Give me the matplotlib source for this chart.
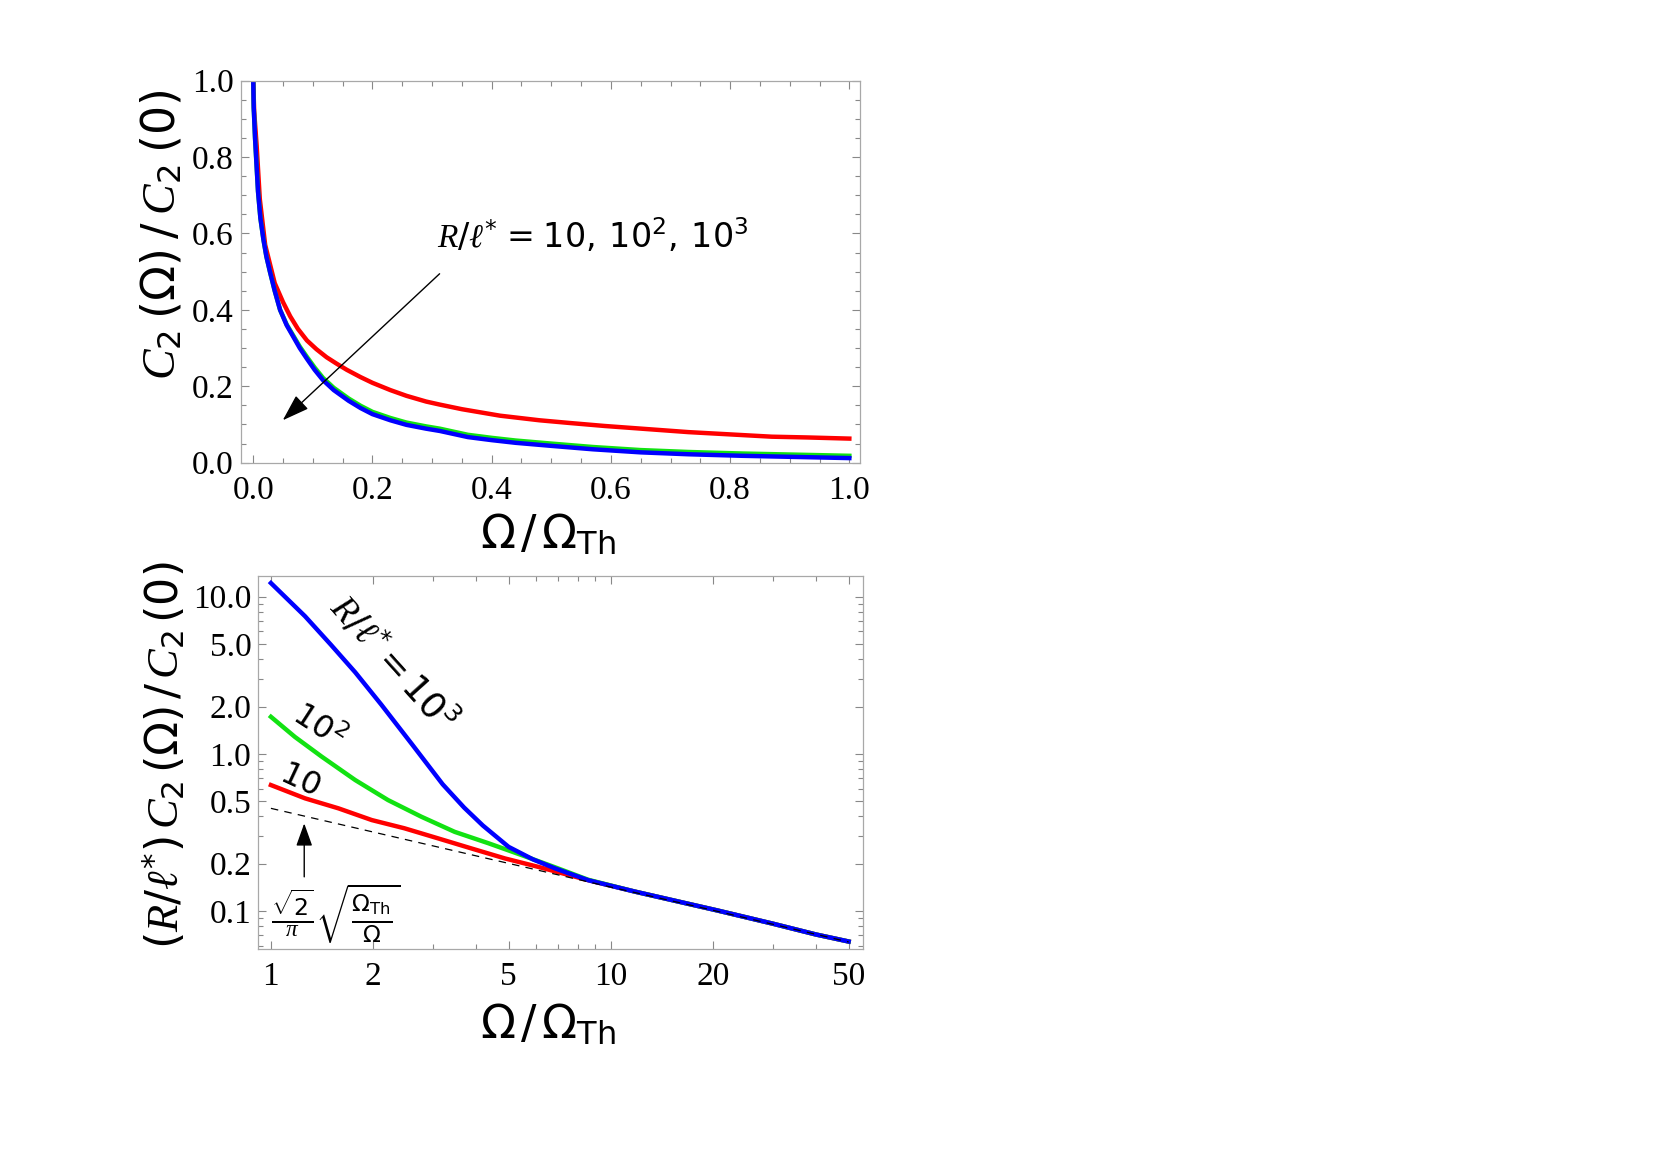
import numpy as np
import matplotlib.pyplot as plt
from matplotlib.ticker import MultipleLocator, FixedLocator, FixedFormatter, NullFormatter, LogLocator

plt.rcParams.update({
    'font.family': ['Liberation Serif', 'DejaVu Serif'],
    'mathtext.fontset': 'custom',
    'mathtext.rm': 'DejaVu Sans',
    'mathtext.it': 'Liberation Serif:italic',
    'mathtext.bf': 'DejaVu Sans:bold',
    'mathtext.sf': 'DejaVu Sans',
})

# --------------------
# Data
# --------------------
# top panel: C2(Omega)/C2(0) vs Omega/Omega_Th, R/l* = 10, 10^2, 10^3
w_red_top = [0, 0.0015, 0.0057, 0.011, 0.02, 0.036, 0.05, 0.062, 0.075, 0.09, 0.106,
             0.123, 0.14, 0.157, 0.18, 0.20, 0.23, 0.257, 0.29, 0.313, 0.35, 0.414,
             0.48, 0.53, 0.59, 0.66, 0.73, 0.80, 0.87, 0.93, 1.0]
c_red_top = [1.0, 0.92, 0.83, 0.69, 0.57, 0.47, 0.42, 0.383, 0.35, 0.32, 0.297,
             0.276, 0.259, 0.243, 0.224, 0.209, 0.19, 0.175, 0.16, 0.152, 0.14, 0.123,
             0.111, 0.104, 0.096, 0.088, 0.080, 0.074, 0.068, 0.066, 0.063]

w_top = [0, 0.0008, 0.003, 0.008, 0.012, 0.017, 0.022, 0.028, 0.036, 0.045, 0.056,
         0.067, 0.078, 0.09, 0.103, 0.117, 0.135, 0.16, 0.18, 0.20, 0.23, 0.257,
         0.29, 0.313, 0.36, 0.40, 0.44, 0.50, 0.57, 0.65, 0.73, 0.82, 0.91, 1.0]
c_green_top = [1.0, 0.93, 0.85, 0.71, 0.64, 0.585, 0.54, 0.50, 0.45, 0.40, 0.362,
               0.333, 0.304, 0.277, 0.249, 0.222, 0.196, 0.168, 0.149, 0.133, 0.117,
               0.105, 0.095, 0.089, 0.073, 0.065, 0.058, 0.050, 0.041, 0.033, 0.028,
               0.024, 0.021, 0.018]
c_blue_top = [1.0, 0.93, 0.85, 0.71, 0.64, 0.585, 0.54, 0.50, 0.45, 0.40, 0.36,
              0.33, 0.30, 0.272, 0.243, 0.216, 0.19, 0.162, 0.143, 0.127, 0.111,
              0.099, 0.089, 0.083, 0.067, 0.059, 0.052, 0.044, 0.035, 0.027, 0.022,
              0.018, 0.015, 0.012]

# bottom panel: (R/l*) C2(Omega)/C2(0), log-log
w_red_bot = [1, 1.26, 1.58, 1.98, 2.47, 3.1, 3.89, 4.88, 6.11, 8.58, 11.75, 20.5, 30, 40, 50]
c_red_bot = [0.633, 0.521, 0.45, 0.379, 0.336, 0.29, 0.25, 0.216, 0.191, 0.157, 0.133,
             0.101, 0.083, 0.071, 0.064]

w_green_bot = [1, 1.177, 1.41, 1.77, 2.21, 2.77, 3.47, 4.36, 5.46, 6.84, 8.58, 11.75,
               20.5, 30, 40, 50]
c_green_bot = [1.72, 1.28, 0.96, 0.681, 0.508, 0.398, 0.319, 0.27, 0.227, 0.19, 0.158,
               0.133, 0.101, 0.083, 0.071, 0.064]

w_blue_bot = [1, 1.26, 1.5, 1.77, 2.11, 2.6, 3.2, 3.7, 4.2, 5.0, 5.9, 6.84, 8.58,
              11.75, 20.5, 30, 40, 50]
c_blue_bot = [12.2, 7.5, 4.95, 3.3, 2.06, 1.15, 0.64, 0.455, 0.35, 0.256, 0.213, 0.187,
              0.157, 0.133, 0.101, 0.083, 0.071, 0.064]

# asymptote sqrt(2)/pi * sqrt(Omega_Th/Omega)
w_asym = [1, 2, 5, 10, 20, 50]
c_asym = [0.45, 0.318, 0.201, 0.142, 0.101, 0.0636]

top_ticks = [0.0, 0.2, 0.4, 0.6, 0.8, 1.0]
bot_xticks = [1, 2, 5, 10, 20, 50]
bot_yticks = [0.1, 0.2, 0.5, 1.0, 2.0, 5.0, 10.0]

RED, GREEN, BLUE = '#ff0000', '#12e212', '#0000ff'
FRAME = '#a8a8a8'

fig = plt.figure(figsize=(16.61, 11.74), dpi=100)
ax1 = fig.add_axes([0.1449, 0.6059, 0.3729, 0.3254])
ax2 = fig.add_axes([0.1555, 0.1914, 0.3642, 0.3182])

for ax in (ax1, ax2):
    for s in ax.spines.values():
        s.set_color(FRAME)
        s.set_linewidth(0.9)
    ax.tick_params(which='both', direction='in', top=True, right=True,
                   color='#888888', width=0.8, labelsize=24)
    ax.tick_params(which='major', length=6)
    ax.tick_params(which='minor', length=3.5)
    ax.tick_params(axis='x', pad=9)
    ax.tick_params(axis='y', pad=5)

# --------------------
# Top panel
# --------------------
ax1.plot(w_red_top, c_red_top, color=RED, lw=3.2)
ax1.plot(w_top, c_green_top, color=GREEN, lw=3.2)
ax1.plot(w_top, c_blue_top, color=BLUE, lw=3.2)

ax1.set_xlim(-0.0211, 1.018)
ax1.set_ylim(0, 1)
ax1.xaxis.set_major_locator(FixedLocator(top_ticks))
ax1.yaxis.set_major_locator(FixedLocator(top_ticks))
ax1.xaxis.set_major_formatter(FixedFormatter([f"{t:.1f}" for t in top_ticks]))
ax1.yaxis.set_major_formatter(FixedFormatter([f"{t:.1f}" for t in top_ticks]))
ax1.xaxis.set_minor_locator(MultipleLocator(0.05))
ax1.yaxis.set_minor_locator(MultipleLocator(0.05))

ax1.set_xlabel(r"$\Omega\,/\,\Omega_{\mathrm{Th}}$", fontsize=33)
ax1.set_ylabel(r"$C_{2}\;(\Omega)\;/\;C_{2}\;(0)$", fontsize=33)
ax1.xaxis.set_label_coords(0.496, -0.132)
ax1.yaxis.set_label_coords(-0.09, 0.597)

ax1.annotate("", xy=(0.0495, 0.111), xytext=(0.3126, 0.4945),
             arrowprops=dict(arrowstyle="-|>,head_length=0.6,head_width=0.2",
                             color='k', lw=1.0, mutation_scale=28,
                             shrinkA=0, shrinkB=0))
ax1.text(0.309, 0.595, r"$R/\ell^{*}\,=\,\mathrm{10,\ 10^{2},\ 10^{3}}$",
         fontsize=24, ha='left', va='center')

# --------------------
# Bottom panel
# --------------------
ax2.plot(w_red_bot, c_red_bot, color=RED, lw=3.2)
ax2.plot(w_green_bot, c_green_bot, color=GREEN, lw=3.2)
ax2.plot(w_blue_bot, c_blue_bot, color=BLUE, lw=3.2)
ax2.plot(w_asym, c_asym, color='k', lw=0.9, ls=(0, (6, 5)), zorder=5)

ax2.set_xscale('log')
ax2.set_yscale('log')
ax2.set_xlim(0.918, 55.2)
ax2.set_ylim(0.0571, 13.58)
ax2.xaxis.set_major_locator(FixedLocator(bot_xticks))
ax2.xaxis.set_major_formatter(FixedFormatter([str(t) for t in bot_xticks]))
ax2.yaxis.set_major_locator(FixedLocator(bot_yticks))
ax2.yaxis.set_major_formatter(FixedFormatter([f"{t:.1f}" for t in bot_yticks]))
ax2.xaxis.set_minor_locator(LogLocator(base=10, subs=np.arange(1, 10)))
ax2.yaxis.set_minor_locator(LogLocator(base=10, subs=np.arange(1, 10)))
ax2.xaxis.set_minor_formatter(NullFormatter())
ax2.yaxis.set_minor_formatter(NullFormatter())

ax2.set_xlabel(r"$\Omega\,/\,\Omega_{\mathrm{Th}}$", fontsize=33)
ax2.set_ylabel(r"$(R/\ell^{*})\,C_{2}\,(\Omega)\,/\,C_{2}\,(0)$", fontsize=32)
ax2.xaxis.set_label_coords(0.479, -0.146)
ax2.yaxis.set_label_coords(-0.117, 0.52)

ax2.text(2.28, 3.78, r"$R/\ell^{*} = \mathrm{10^{3}}$", fontsize=26,
         rotation=-48, ha='center', va='center', rotation_mode='anchor')
ax2.text(1.38, 1.49, r"$\mathrm{10^{2}}$", fontsize=23,
         rotation=-33, ha='center', va='center', rotation_mode='anchor')
ax2.text(1.21, 0.673, r"$\mathrm{10}$", fontsize=23,
         rotation=-25, ha='center', va='center', rotation_mode='anchor')

ax2.annotate("", xy=(1.253, 0.361), xytext=(1.253, 0.165),
             arrowprops=dict(arrowstyle="-|>,head_length=0.7,head_width=0.25",
                             color='k', lw=1.0, mutation_scale=20,
                             shrinkA=0, shrinkB=0))
ax2.text(1.0, 0.097, r"$\frac{\sqrt{2}}{\pi}\sqrt{\frac{\Omega_{\mathrm{Th}}}{\Omega}}$",
         fontsize=24, ha='left', va='center')

fig.savefig('out.png', dpi=100)
